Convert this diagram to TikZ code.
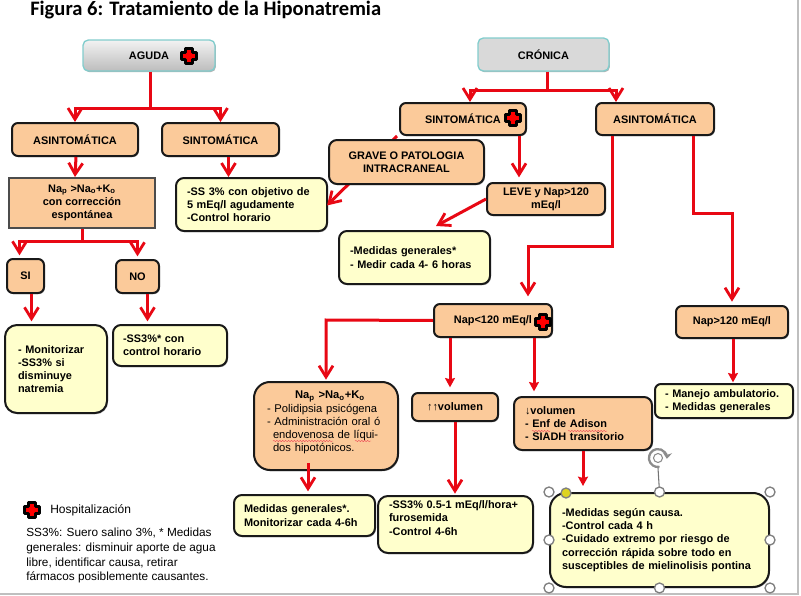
\documentclass[tikz,border=0pt]{standalone}
\usepackage{fontspec}
\setmainfont{Liberation Sans}
\newfontfamily\titlefont{Carlito}
\usetikzlibrary{arrows.meta,shadows,decorations.pathmorphing}
\definecolor{boxorange}{RGB}{251,202,154}
\definecolor{boxyellow}{RGB}{255,255,204}
\definecolor{boxteal}{RGB}{130,205,205}
\definecolor{flowred}{RGB}{232,8,20}
\tikzset{
wh/.style 2 args={minimum width=#1*0.75pt,minimum height=#2*0.75pt,inner sep=0pt},
twh/.style n args={3}{text width=(#1-2*#3)*0.75pt,inner xsep=#3*0.75pt,inner ysep=0pt,minimum height=#2*0.75pt,align=left},
sombra/.style={drop shadow={shadow xshift=0.7pt,shadow yshift=-0.9pt,opacity=.3,fill=black}},
orange/.style={draw=black!90,line width=1.5pt,rounded corners=4.5pt,fill=boxorange,align=center,sombra},
note/.style={draw=black!90,line width=1.5pt,rounded corners=6pt,fill=boxyellow,sombra},
head/.style={draw=boxteal,line width=1pt,rounded corners=4pt,align=center,sombra},
flow/.style={-{Straight Barb[length=8.5pt,width=10.5pt,line width=2.1pt]},line width=2.25pt,draw=flowred},
flowb/.style={-{Stealth[length=7pt,width=7.5pt,inset=1pt]},line width=2.25pt,draw=flowred},
handle/.style={circle,draw=black!50,line width=1pt,fill=white,minimum size=7.5pt,inner sep=0pt},
spell/.style={draw=flowred!70,line width=.35pt,decorate,decoration={snake,amplitude=.5pt,segment length=2.2pt}},
hospcross/.pic={\draw[draw=black,line width=1.8pt,fill=red,line join=bevel] (-3.4,-7.6) -- (3.4,-7.6) -- (3.4,-3.4) -- (7.6,-3.4) -- (7.6,3.4) -- (3.4,3.4) -- (3.4,7.6) -- (-3.4,7.6) -- (-3.4,3.4) -- (-7.6,3.4) -- (-7.6,-3.4) -- (-3.4,-3.4) -- cycle;}
}
\begin{document}
\begin{tikzpicture}[x=0.75pt,y=-0.75pt,font=\bfseries\fontsize{8.2}{9.9}\selectfont]
\useasboundingbox (0,0) rectangle (801,596);
\draw[black!25,line width=.8pt] (798,0) -- (798,594) -- (0,594);
\node[anchor=west,inner sep=0pt,font=\titlefont\bfseries\fontsize{15.4}{18}\selectfont] (titulo) at (30,10) {Figura 6: Tratamiento de la Hiponatremia};
\node[head,wh={132}{31},top color=black!5,bottom color=black!26] (aguda) at (149,55.5) {AGUDA};
\node[head,wh={131}{33},fill=black!15] (cronica) at (543.5,54.5) {CRÓNICA};
\node[orange,wh={126}{33}] (asint1) at (75,139.5) {ASINTOMÁTICA};
\node[orange,wh={117}{33}] (sint1) at (220.5,139.5) {SINTOMÁTICA};
\node[draw=black!70,line width=1.5pt,fill=boxorange,align=center,wh={146}{50}] (nacorr) at (82,203) {Na\textsubscript{p} >Na\textsubscript{o}+K\textsubscript{o}\\con corrección\\espontánea};
\node[note,twh={151}{53}{11}] (ss3) at (251.5,204.5) {-SS 3\% con objetivo de\\5 mEq/l agudamente\\-Control horario};
\node[orange,wh={37}{34}] (si) at (25.5,276) {SI};
\node[orange,wh={43}{33}] (no) at (137.5,276.5) {NO};
\node[note,rounded corners=9pt,twh={102}{88}{13}] (monit) at (56,369) {- Monitorizar\\-SS3\% si\\disminuye\\natremia};
\node[note,twh={114}{41}{10}] (sshor) at (170,345.5) {-SS3\%* con\\control horario};
\node[orange,wh={126}{32}] (sint2) at (463,119) {SINTOMÁTICA};
\node[orange,wh={118}{32}] (asint2) at (655,119) {ASINTOMÁTICA};
\draw[flow,shorten >=-1pt] (sint2.south west) ++(-2,0) -- (ss3.east);
\node[orange,rounded corners=6pt,wh={155}{44}] (grave) at (406.5,162) {GRAVE O PATOLOGIA\\INTRACRANEAL};
\node[orange,wh={118}{32}] (leve) at (546,199) {LEVE y Nap>120\\mEq/l};
\node[note,twh={151}{53}{11}] (medgen) at (414.5,257.5) {-Medidas generales*\\- Medir cada 4- 6 horas};
\node[orange,wh={118}{33}] (nabaja) at (493,320.5) {Nap<120 mEq/l};
\node[orange,wh={112}{32}] (naalta) at (732,322) {Nap>120 mEq/l};
\node[note,rounded corners=4.5pt,twh={138}{34}{10}] (manejo) at (724,401) {- Manejo ambulatorio.\\- Medidas generales};
\node[orange,rounded corners=6pt,align=left,twh={138}{53}{11}] (volbajo) at (583,423.5) {↓volumen\\- Enf de Adison\\- SIADH transitorio};
\node[orange,wh={86}{28}] (volalto) at (455,407) {↑↑volumen};
\node[orange,rounded corners=12pt,align=left,twh={144}{88}{13},font=\mdseries\fontsize{8.4}{9.9}\selectfont] (polidip) at (326,426) {\hspace*{21pt}\textbf{Na\textsubscript{p} >Na\textsubscript{o}+K\textsubscript{o}}\\- Polidipsia psicógena\\- Administración oral ó\\\hspace*{4.5pt}endovenosa de líqui-\\\hspace*{4.5pt}dos hipotónicos.\\[-3pt]\mbox{}};
\node[note,twh={141}{41}{10}] (monit2) at (304.5,515.5) {Medidas generales*.\\Monitorizar cada 4-6h};
\node[note,rounded corners=7.5pt,twh={155}{57}{11}] (ssfuro) at (455.5,524.5) {-SS3\% 0.5-1 mEq/l/hora+\\furosemida\\-Control 4-6h\\\mbox{}};
\node[note,rounded corners=12pt,twh={219}{94}{12}] (segun) at (659.5,540) {-Medidas según causa.\\-Control cada 4 h\\-Cuidado extremo por riesgo de\\corrección rápida sobre todo en\\susceptibles de mielinolisis pontina};
\pic at (189,56) {hospcross};
\pic at (513,118) {hospcross};
\pic at (543,322) {hospcross};
\pic at (32,510) {hospcross};
\node[anchor=west,inner sep=0pt,font=\mdseries\fontsize{9}{11}\selectfont] (hosp) at (50,510) {Hospitalización};
\node[anchor=north west,align=left,inner sep=0pt,font=\mdseries\fontsize{8.85}{11}\selectfont] (leyenda) at (26,528) {SS3\%: Suero salino 3\%, * Medidas\\generales: disminuir aporte de agua\\libre, identificar causa, retirar\\fármacos posiblemente causantes.};
\coordinate (jaguda) at (150,108);
\draw[line width=2.25pt,draw=flowred] ([xshift=.75pt]aguda.south) -- (jaguda);
\draw[flow] (jaguda) -| (asint1.north);
\draw[flow] (jaguda) -| (sint1.north);
\draw[flow] ([xshift=.75pt]asint1.south) -- (nacorr.north -| asint1.south);
\draw[flow] ([xshift=6pt]sint1.south) -- ([xshift=6pt]sint1.south |- ss3.north);
\coordinate (jnacorr) at (82,241);
\draw[line width=2.25pt,draw=flowred] (nacorr.south) -- (jnacorr);
\draw[flow,shorten >=2pt] (jnacorr) -| ([xshift=-4.5pt]si.north);
\draw[flow,shorten >=2pt] (jnacorr) -| (no.north);
\draw[flow,shorten >=2pt] ([xshift=4.5pt]si.south) -- ([xshift=4.5pt]si.south |- monit.north) coordinate (fmonit);
\draw[flow,shorten >=2pt] ([xshift=7.5pt]no.south) -- ([xshift=7.5pt]no.south |- sshor.north);
\coordinate (jcronica) at (547,90);
\draw[line width=2.25pt,draw=flowred] (jcronica |- cronica.south) -- (jcronica);
\draw[flow] (jcronica) -| ([xshift=5.25pt]sint2.north);
\draw[flow] (jcronica) -| ([xshift=-29.25pt]asint2.north);
\draw[flow,shorten >=3.5pt] ([xshift=42pt]sint2.south) -- ([xshift=42pt]sint2.south |- leve.north);
\coordinate (fmedgen) at (436,226);
\draw[flow,shorten >=0pt] (leve.west) -- (fmedgen);
\coordinate (codo1) at (612,246);
\coordinate (codo2) at (528,246);
\draw[flow,shorten >=5pt] (codo1 |- asint2.south) -- (codo1) -- (codo2) -- (codo2 |- nabaja.north);
\coordinate (codo3) at (693,213);
\coordinate (codo4) at (732,213);
\draw[flow,shorten >=2.5pt] (codo3 |- asint2.south) -- (codo3) -- (codo4) -- (naalta.north);
\coordinate (codo5) at (326,320);
\draw[flow,shorten >=1pt] (nabaja.west) -- (codo5) -- (polidip.north);
\draw[flowb,shorten >=3.5pt] ([xshift=-32.25pt]nabaja.south) -- ([xshift=-32.25pt]nabaja.south |- volalto.north);
\draw[flowb,shorten >=3.5pt] ([xshift=30.75pt]nabaja.south) -- ([xshift=30.75pt]nabaja.south |- volbajo.north);
\draw[flow,shorten >=1pt] (volalto.south) -- (ssfuro.north -| volalto.south);
\coordinate (spolid) at (308,463);
\draw[flow,shorten >=2pt] (spolid) -- (spolid |- monit2.north);
\draw[flowb,shorten >=4.5pt] (volbajo.south) -- (volbajo.south |- segun.north);
\draw[flowb,shorten >=.5pt] ([xshift=.75pt]naalta.south) -- ([xshift=.75pt]naalta.south |- manejo.north);
\draw[spell] (273,441) -- (333,441);
\draw[spell] (355,441) -- (371,441);
\draw[spell] (532,431) -- (550,431);
\draw[spell] (568,431) -- (607,431);
\coordinate (giro) at (658,458);
\draw[black!55,line width=.8pt] (giro) ++(0,10) -- (segun.north);
\draw[black!45,line width=1.7pt,-{Stealth[length=4.5pt,width=7pt]}] (giro) ++(1.5,8.9) arc[start angle=80,end angle=365,radius=9];
\draw[black!45,line width=.8pt] (giro) circle[radius=4.5];
\foreach \a in {north west,north,north east,west,east,south west,south,south east}
\node[handle] (h-\a) at (segun.\a) {};
\node[handle,fill=yellow!85!black] (hamarilla) at (566,493) {};
\end{tikzpicture}
\end{document}
